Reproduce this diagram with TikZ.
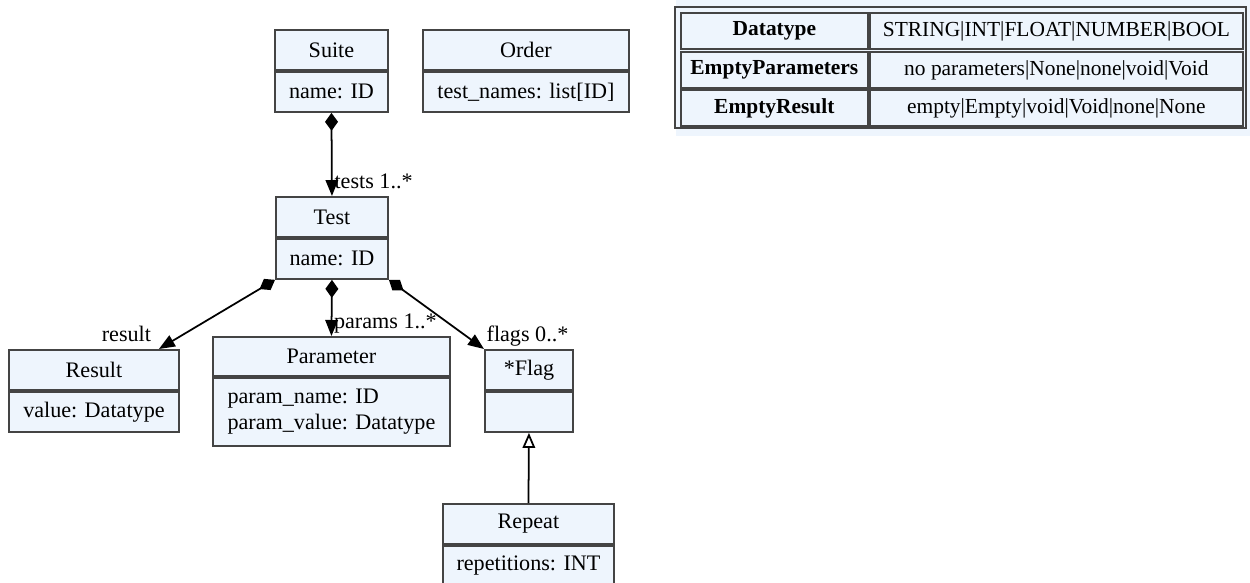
\documentclass[tikz,border=0pt]{standalone}
\usepackage{fontspec}
\setmainfont{Liberation Serif}
\usetikzlibrary{arrows.meta}
\definecolor{classfill}{HTML}{EEF5FD}
\definecolor{classline}{HTML}{444444}

\begin{document}
\begin{tikzpicture}[x=0.02cm, y=-0.02cm,
    every node/.style={font=\fontsize{12.6}{15}\selectfont},
    head/.style={draw=classline, fill=classfill, line width=1.1pt,
        anchor=north west, minimum width=#1, minimum height=0.8cm,
        inner sep=0pt},
    attrs/.style={draw=classline, fill=classfill, line width=1.1pt,
        anchor=north, minimum width=#1, minimum height=0.8cm,
        inner sep=0pt},
    compose/.style={line width=1pt,
        {Diamond[length=0.36cm,width=0.26cm]}-{Triangle[length=0.32cm,width=0.25cm]}},
    inherit/.style={line width=1pt,
        -{Triangle[open,length=0.3cm,width=0.25cm,fill=white]}},
    role/.style={inner sep=0pt, yshift=4pt},
    cell/.style={draw=classline, fill=classfill, line width=1pt,
        anchor=north west, minimum width=#1, minimum height=0.72cm,
        inner sep=0pt, font=\fontsize{12.2}{14}\selectfont},
    ]
    \useasboundingbox (0,0) rectangle (1250,582);

    % Suite and Order
    \node[head=2.26cm] (suite) at (274,29) {Suite};
    \node[attrs=2.26cm] (suite-a) at (suite.south) {name: ID};
    \node[head=4.12cm] (order) at (422,29) {Order};
    \node[attrs=4.12cm] (order-a) at (order.south) {test\_names: list[ID]};

    % Test
    \node[head=2.24cm] (test) at (275,196) {Test};
    \node[attrs=2.24cm] (test-a) at (test.south) {name: ID};

    % Result, Parameter, Flag
    \node[head=3.4cm] (result) at (8,349) {Result};
    \node[attrs=3.4cm] (result-a) at (result.south) {value: Datatype};

    \node[head=4.74cm, minimum height=0.78cm] (param) at (212,336) {Parameter};
    \node[attrs=4.74cm, minimum height=1.36cm, align=left]
        (param-a) at (param.south) {param\_name: ID\\param\_value: Datatype};

    \node[head=1.76cm] (flag) at (484,349) {*Flag};
    \node[attrs=1.76cm] (flag-a) at (flag.south) {};

    % Repeat
    \node[head=3.42cm] (repeat) at (442,503) {Repeat};
    \node[attrs=3.42cm] (repeat-a) at (repeat.south) {repetitions: INT};

    % Compositions
    \draw[compose] (suite-a.south) -- (test.north)
        node[role, at end, anchor=base west, xshift=1pt] {tests 1..*};
    \draw[compose] (test-a.south west) -- ([xshift=-0.42cm]result.north east)
        node[role, at end, anchor=base east, xshift=-4pt] {result};
    \draw[compose] (test-a.south) -- (param.north)
        node[role, at end, anchor=base west, xshift=1pt] {params 1..*};
    \draw[compose] (test-a.south east) -- (flag.north west)
        node[role, at end, anchor=base west, xshift=1pt] {flags 0..*};

    % Inheritance
    \draw[inherit] (repeat.north) -- (flag-a.south);

    % Type table
    \fill[classfill] (676,0) rectangle (1250,136);
    \draw[classline, line width=1pt] (675,7) rectangle (1246,128);
    \node[cell=3.74cm] (dt-key) at (680,12) {\bfseries Datatype};
    \node[cell=7.46cm] (dt-val) at (869,12) {STRING|INT|FLOAT|NUMBER|BOOL};
    \node[cell=3.74cm] (ep-key) at (680,51) {\bfseries EmptyParameters};
    \node[cell=7.46cm] (ep-val) at (869,51) {no parameters|None|none|void|Void};
    \node[cell=3.74cm] (er-key) at (680,89) {\bfseries EmptyResult};
    \node[cell=7.46cm] (er-val) at (869,89) {empty|Empty|void|Void|none|None};
\end{tikzpicture}
\end{document}
